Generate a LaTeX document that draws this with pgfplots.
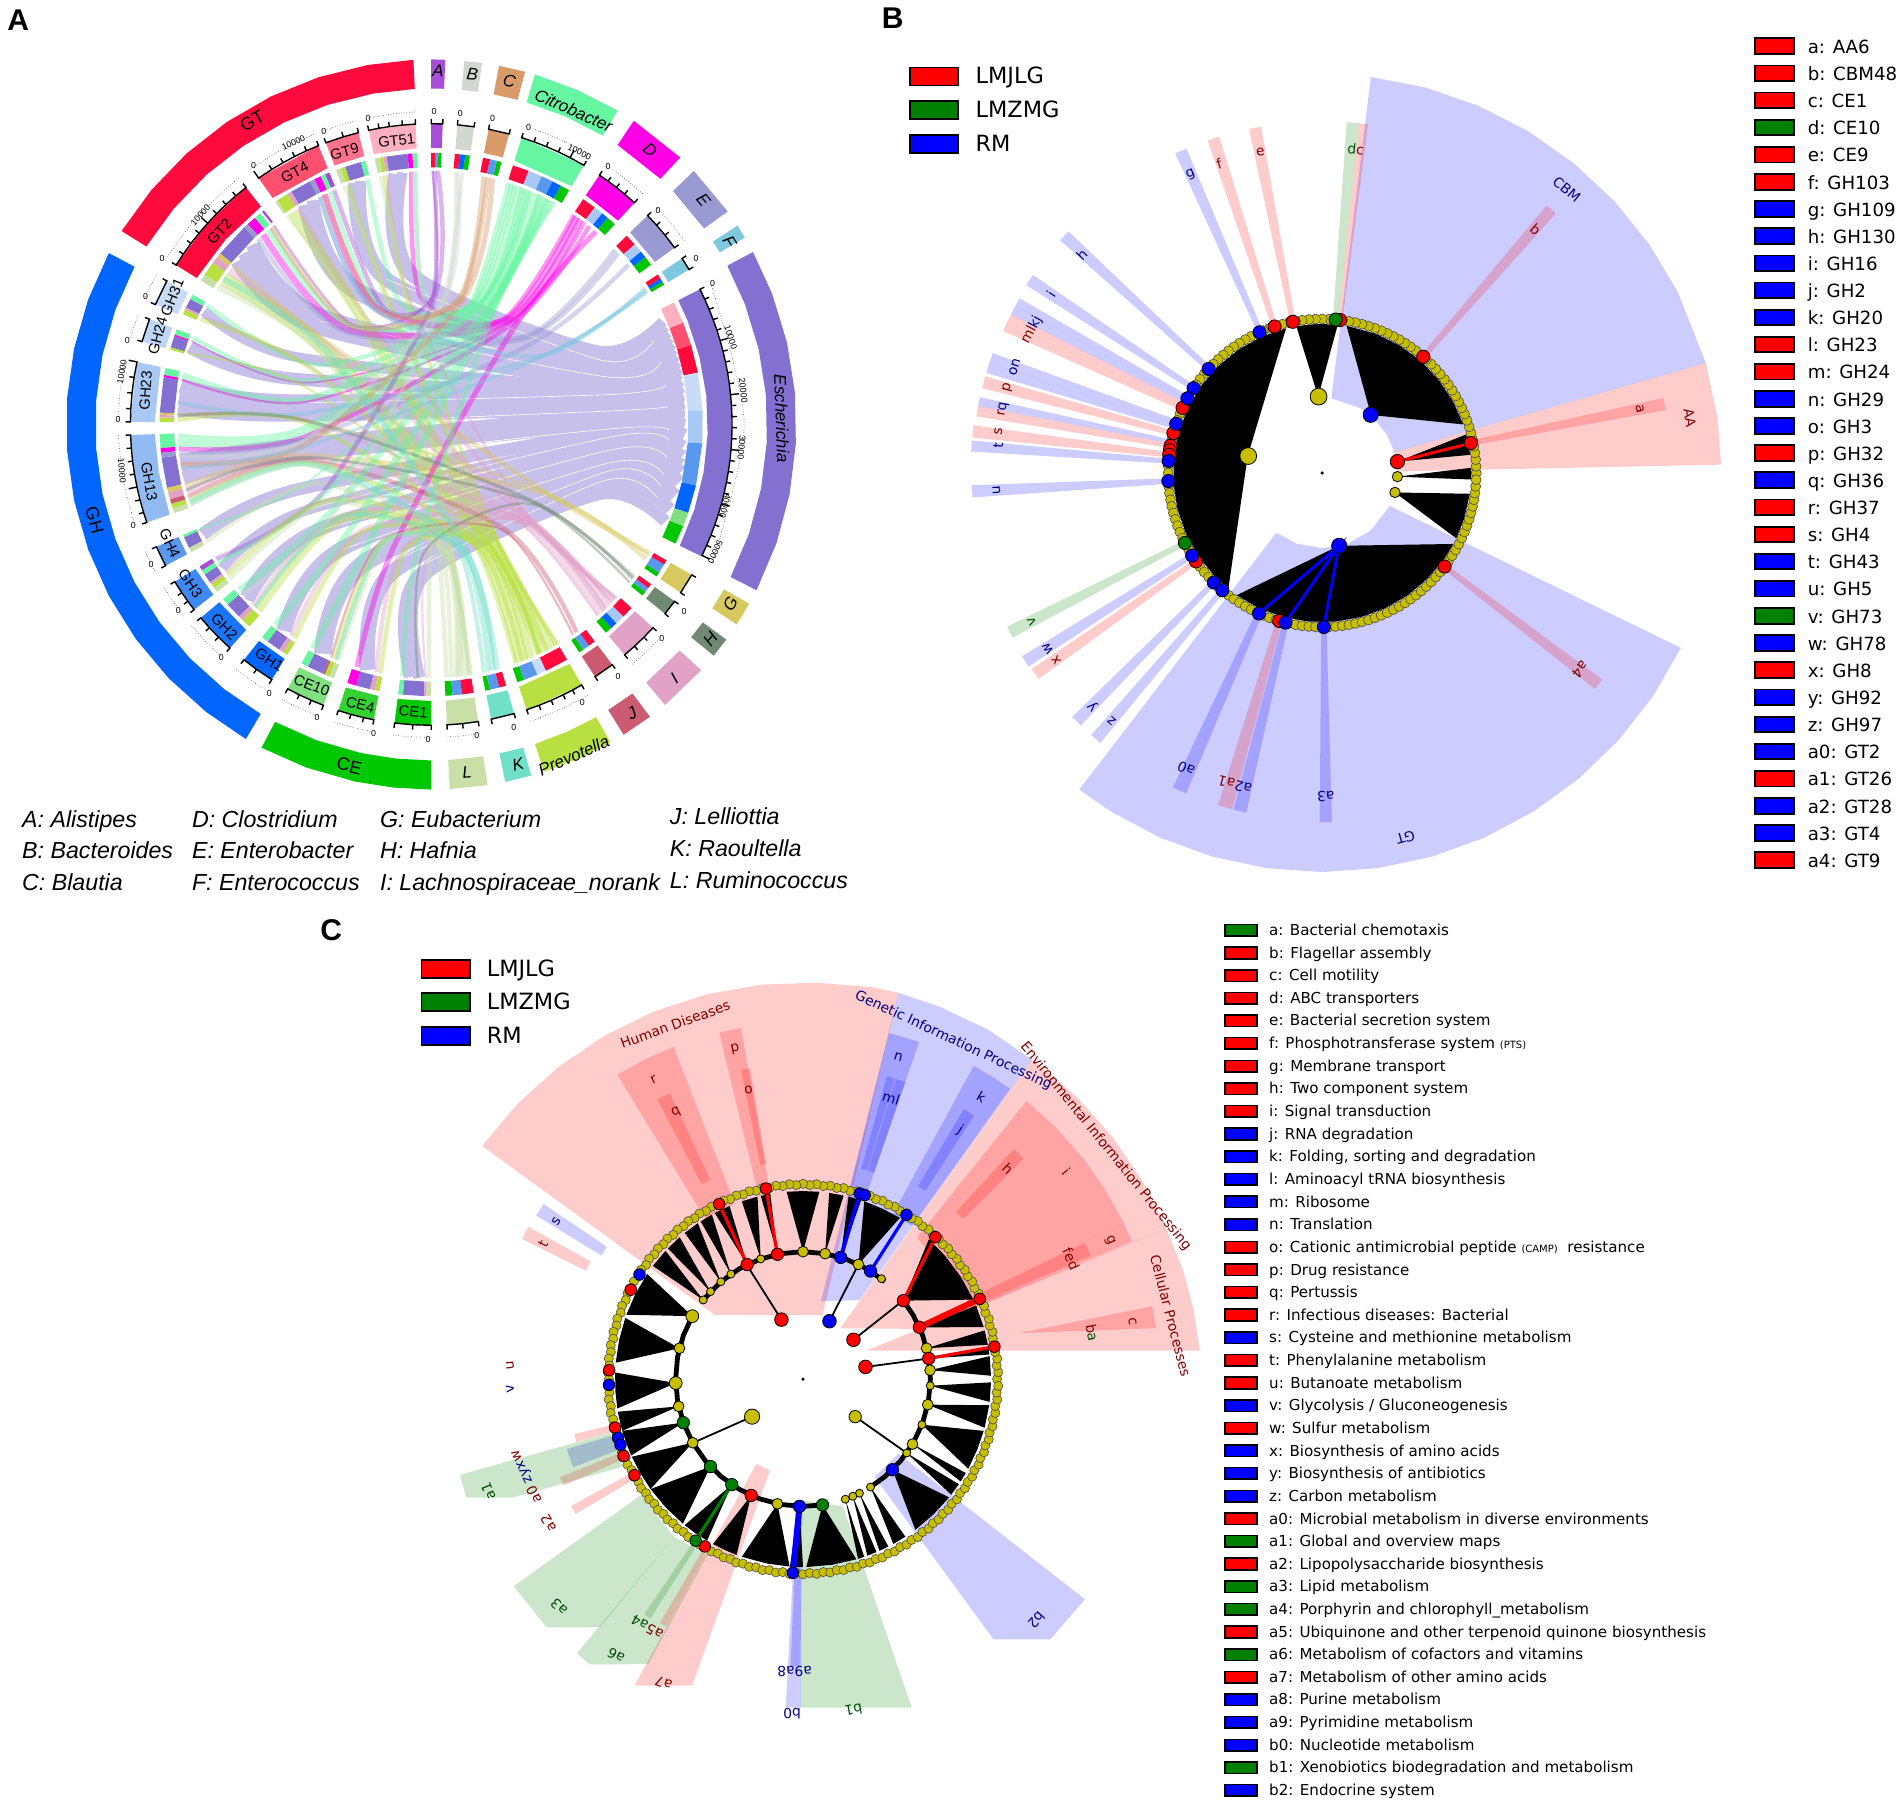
\documentclass[border=0pt]{standalone}
\usepackage{fontspec}
\usepackage{pgfplots}
\pgfplotsset{compat=1.18}
\setmainfont{Liberation Sans}
\newfontfamily\lefse[WordSpace=2.2]{DejaVu Sans}
\newfontfamily\lefsen{DejaVu Sans}
\definecolor{cRd}{HTML}{FF0A3C}\definecolor{cPk}{HTML}{FFB0C0}\definecolor{cRm}{HTML}{FF5070}
\definecolor{cB0}{HTML}{C8DCF8}\definecolor{cB1}{HTML}{A8C8F5}\definecolor{cB2}{HTML}{5A98F0}\definecolor{cB3}{HTML}{0066FF}
\definecolor{cG1}{HTML}{80E080}\definecolor{cGn}{HTML}{00C800}
\definecolor{cA}{HTML}{A64FD6}\definecolor{cBa}{HTML}{D0D8D0}\definecolor{cC}{HTML}{D89A68}\definecolor{cT}{HTML}{66F5A0}
\definecolor{cD}{HTML}{FF00E6}\definecolor{cE}{HTML}{9A9AD2}\definecolor{cF}{HTML}{7EC8E0}\definecolor{cL}{HTML}{8470D0}
\definecolor{cLav}{HTML}{C6C0EA}\definecolor{cG}{HTML}{D8C860}\definecolor{cH}{HTML}{6F8A70}\definecolor{cI}{HTML}{E2A2C8}
\definecolor{cJ}{HTML}{CC5A70}\definecolor{cP}{HTML}{B8E040}\definecolor{cK}{HTML}{70E0C8}\definecolor{cR}{HTML}{C8E0A8}
\definecolor{yl}{HTML}{C8BE00}\definecolor{lgreen}{HTML}{008000}
\definecolor{tR}{HTML}{800000}\definecolor{tB}{HTML}{000080}\definecolor{tG}{HTML}{005000}
\pgfplotsset{
  panel/.style={hide axis,scale only axis,width=951pt,height=903pt,clip=false,at={(0,0)},anchor=south west},
  pol/.style={data cs=polar},
}
\tikzset{
  lb/.style={anchor=west,inner sep=0pt,text height=.92em,text depth=.2em},
  lbc/.style={anchor=west,inner sep=0pt,text height=.72em,text depth=.2em},
  lbg/.style={anchor=west,inner sep=0pt,text height=1.04em,text depth=.2em},
  tx/.style={inner sep=0pt},
}
\pgfdeclareplotmark{swR}{\pgfpathrectangle{\pgfpoint{-9.7pt}{-3.9pt}}{\pgfpoint{19.4pt}{7.8pt}}\pgfusepathqfillstroke}
\pgfdeclareplotmark{swC}{\pgfpathrectangle{\pgfpoint{-7.9pt}{-2.9pt}}{\pgfpoint{15.8pt}{5.8pt}}\pgfusepathqfillstroke}
\pgfdeclareplotmark{swL}{\pgfpathrectangle{\pgfpoint{-12.1pt}{-4.5pt}}{\pgfpoint{24.2pt}{9pt}}\pgfusepathqfillstroke}
\newcommand\pg[3]{\addplot[pol,fill=#1,fill opacity=#2,draw=none] coordinates {#3} --cycle;}
\newcommand\strip[5]{\addplot[pol,fill=#1,fill opacity=.2,draw=none] coordinates {(#2,#4)(#3,#4)(#3,#5)(#2,#5)} --cycle;}
\newcommand\bk[1]{\addplot[pol,fill=black,draw=none] coordinates {#1} --cycle;}
\newcommand\ou[3]{\addplot[pol,fill=#1,draw=none] coordinates {(#2,277)(#3,277)(#3,301)(#2,301)} --cycle;}
\newcommand\tr[3]{\addplot[pol,fill=#1,draw=none] coordinates {(#2,228)(#3,228)(#3,248)(#2,248)} --cycle;}
\newcommand\gb[3]{\addplot[pol,fill=#1,draw=none] coordinates {(#2,212)(#3,212)(#3,224)(#2,224)} --cycle;}
\newcommand\lav[3]{\addplot[pol,smooth,draw=cLav,line width=#1pt] coordinates {(#2,209)(#2,125)(#3,150)(#3,209)};}
\newcommand\wl[2]{\addplot[pol,smooth,draw=white,line width=.3pt] coordinates {(#1,125)(#2,150)(#2,196)};}
\newcommand\rib[4]{\addplot[pol,smooth,draw=#1,line width=#2pt,opacity=.42] coordinates {(#3,209)(#3,105)(#4,105)(#4,209)};}
\newcommand\fs[6]{\rib{#1}{#6}{#3}{#5}\gb{#1}{#2}{#4}}
\newcommand\dt[3]{\addplot[pol,smooth,black!70,densely dotted,line width=.3pt] coordinates {(#1,258)(#2,258)(#3,258)};}
\newcommand\lbl[5]{\node[tx,rotate=#3,text=#4,font=#5] at (#1,#2)}
\newcommand\lR[4]{\node[tx,rotate=#3,text=tR,font=\fontsize{6.9}{8}\selectfont\lefse] at (#1,#2) {#4};}
\newcommand\lB[4]{\node[tx,rotate=#3,text=tB,font=\fontsize{6.9}{8}\selectfont\lefse] at (#1,#2) {#4};}
\newcommand\lG[4]{\node[tx,rotate=#3,text=tG,font=\fontsize{6.9}{8}\selectfont\lefse] at (#1,#2) {#4};}
\newcommand\nb[2]{\node[lb,font=\fontsize{9.1}{11}\selectfont\lefsen] at (1490,#1) {#2};}
\newcommand\nc[2]{\node[lbc,font=\fontsize{7.55}{9}\selectfont\lefse] at (1046,#1) {#2};}
\newcommand\sm[1]{{\fontsize{5}{6}\selectfont #1}}
\newcommand\cR[1]{\textcolor{tR}{#1}}
\newcommand\cB[1]{\textcolor{tB}{#1}}
\newcommand\cG[1]{\textcolor{tG}{#1}}
\begin{document}
\begin{tikzpicture}
\path[use as bounding box] (0,0) rectangle (951pt,903pt);
% ---------- panel A: chord diagram, polar (angle, radius) around its centre
\begin{axis}[panel,xmin=-355.5,xmax=1212.5,ymin=-1139,ymax=350]
\pg{cRd}{1}{(92.8,277)(100,277)(108,277)(116,277)(124,277)(132,277)(140,277)(148,277)(148,301)(140,301)(132,301)(124,301)(116,301)(108,301)(100,301)(92.8,301)}
\pg{cB3}{1}{(152,277)(160,277)(168,277)(176,277)(184,277)(192,277)(200,277)(208,277)(216,277)(224,277)(232,277)(239.5,277)(239.5,301)(232,301)(224,301)(216,301)(208,301)(200,301)(192,301)(184,301)(176,301)(168,301)(160,301)(152,301)}
\pg{cGn}{1}{(242.3,277)(250,277)(258,277)(264,277)(270,277)(270,301)(264,301)(258,301)(250,301)(242.3,301)}
\pg{cL}{1}{(-27,277)(-19,277)(-11,277)(-3,277)(5,277)(13,277)(21,277)(28.2,277)(28.2,301)(21,301)(13,301)(5,301)(-3,301)(-11,301)(-19,301)(-27,301)}
\pg{cT}{1}{(59.3,277)(66.4,277)(73.5,277)(73.5,301)(66.4,301)(59.3,301)}
\pg{cP}{1}{(288,277)(294,277)(299.4,277)(299.4,301)(294,301)(288,301)}
\ou{cA}{87.8}{90}\ou{cBa}{82}{84.8}\ou{cC}{75.1}{79.3}\ou{cD}{47}{56.3}\ou{cE}{35.7}{44}\ou{cF}{30.8}{33}
\ou{cR}{272.9}{278.9}\ou{cK}{281.7}{285.9}\ou{cJ}{301.8}{306.8}\ou{cI}{309.8}{317.7}\ou{cH}{320.7}{323.9}\ou{cG}{326.8}{330.6}
% name tracks
\tr{cRd}{128}{138}\tr{cRd}{138}{148}\tr{cRm}{112}{125}\tr{cRm!80}{104}{110.5}\tr{cPk}{93}{102}
\tr{cB0}{151.5}{156.5}\tr{cB0!70!cB1}{159.5}{164}\tr{cB1}{168}{179.5}\tr{cB1!70!cB2}{182}{190}\tr{cB1!70!cB2}{190}{199}
\tr{cB2}{204}{208}\tr{cB2!70!cB3}{211.5}{218}\tr{cB2!30!cB3}{220}{228}\tr{cB3}{231.5}{238}
\tr{cG1}{241.5}{249}\tr{cG1!40!cGn}{252}{259}\tr{cGn}{263}{270}
\tr{cA}{87.8}{90}\tr{cBa}{81.8}{85}\tr{cC}{75}{79}\tr{cT}{59.5}{72.5}\tr{cD}{47.5}{56}\tr{cE}{36}{44}\tr{cF}{31}{33.5}
\pg{cL}{1}{(-26,228)(-18,228)(-10,228)(-2,228)(6,228)(14,228)(22,228)(26.7,228)(26.7,248)(22,248)(14,248)(6,248)(-2,248)(-10,248)(-18,248)(-26,248)}
\tr{cG}{326}{330}\tr{cH}{321}{324}\tr{cI}{310}{317.5}\tr{cJ}{303}{307}\tr{cP}{288.5}{300}\tr{cK}{281.5}{286}\tr{cR}{273}{279}
% axis ticks of the tracks
\addplot[pol,black,line width=.7pt] coordinates {(128,248)(128,252)(128,248)(130.5,248)(130.5,252)(130.5,248)(133,248)(133,252)(133,248)(135.5,248)(135.5,252)(135.5,248)(138,248)(138,255)(138,248)(140.5,248)(140.5,252)(140.5,248)(143,248)(143,252)(143,248)(145.5,248)(145.5,252)(145.5,248)(148,248)(148,252)};
\addplot[pol,black,line width=.7pt] coordinates {(112,248)(112,252)(112,248)(114.5,248)(114.5,252)(114.5,248)(117,248)(117,252)(117,248)(119.5,248)(119.5,252)(119.5,248)(122,248)(122,252)(122,248)(125,248)(125,255)};
\addplot[pol,black,line width=.7pt] coordinates {(104,248)(104,252)(104,248)(107,248)(107,252)(107,248)(110.5,248)(110.5,252)};
\addplot[pol,black,line width=.7pt] coordinates {(93,248)(93,252)(93,248)(95.5,248)(95.5,252)(95.5,248)(98,248)(98,252)(98,248)(100,248)(100,252)(100,248)(102,248)(102,252)};
\addplot[pol,black,line width=.7pt] coordinates {(151.5,248)(151.5,252)(151.5,248)(156.5,248)(156.5,252)};
\addplot[pol,black,line width=.7pt] coordinates {(159.5,248)(159.5,252)(159.5,248)(164,248)(164,252)};
\addplot[pol,black,line width=.7pt] coordinates {(168,248)(168,255)(168,248)(171,248)(171,252)(171,248)(174,248)(174,252)(174,248)(177,248)(177,252)(177,248)(179.5,248)(179.5,252)};
\addplot[pol,black,line width=.7pt] coordinates {(182,248)(182,252)(182,248)(184.5,248)(184.5,252)(184.5,248)(187,248)(187,252)(187,248)(189.5,248)(189.5,252)(189.5,248)(192,248)(192,255)(192,248)(194.5,248)(194.5,252)(194.5,248)(197,248)(197,252)(197,248)(199,248)(199,252)};
\addplot[pol,black,line width=.7pt] coordinates {(204,248)(204,252)(204,248)(208,248)(208,252)};
\addplot[pol,black,line width=.7pt] coordinates {(211.5,248)(211.5,252)(211.5,248)(214,248)(214,252)(214,248)(216,248)(216,252)(216,248)(218,248)(218,252)};
\addplot[pol,black,line width=.7pt] coordinates {(220,248)(220,252)(220,248)(222.5,248)(222.5,252)(222.5,248)(225,248)(225,252)(225,248)(228,248)(228,252)};
\addplot[pol,black,line width=.7pt] coordinates {(231.5,248)(231.5,252)(231.5,248)(234.5,248)(234.5,252)(234.5,248)(238,248)(238,252)};
\addplot[pol,black,line width=.7pt] coordinates {(241.5,248)(241.5,252)(241.5,248)(244,248)(244,252)(244,248)(246.5,248)(246.5,252)(246.5,248)(249,248)(249,252)};
\addplot[pol,black,line width=.7pt] coordinates {(252,248)(252,252)(252,248)(254.5,248)(254.5,252)(254.5,248)(257,248)(257,252)(257,248)(259,248)(259,252)};
\addplot[pol,black,line width=.7pt] coordinates {(263,248)(263,252)(263,248)(266.5,248)(266.5,252)(266.5,248)(270,248)(270,252)};
\addplot[pol,black,line width=.7pt] coordinates {(87.8,248)(87.8,252)(87.8,248)(90,248)(90,252)};
\addplot[pol,black,line width=.7pt] coordinates {(81.8,248)(81.8,252)(81.8,248)(85,248)(85,252)};
\addplot[pol,black,line width=.7pt] coordinates {(75,248)(75,252)(75,248)(79,248)(79,252)};
\addplot[pol,black,line width=.7pt] coordinates {(72.5,248)(72.5,252)(72.5,248)(70,248)(70,252)(70,248)(67.5,248)(67.5,252)(67.5,248)(65,248)(65,252)(65,248)(62.5,248)(62.5,255)(62.5,248)(59.5,248)(59.5,252)};
\addplot[pol,black,line width=.7pt] coordinates {(56,248)(56,252)(56,248)(54,248)(54,252)(54,248)(52,248)(52,252)(52,248)(50,248)(50,252)(50,248)(47.5,248)(47.5,252)};
\addplot[pol,black,line width=.7pt] coordinates {(44,248)(44,252)(44,248)(41.5,248)(41.5,252)(41.5,248)(39,248)(39,252)(39,248)(36,248)(36,252)};
\addplot[pol,black,line width=.7pt] coordinates {(33.5,248)(33.5,252)(33.5,248)(31,248)(31,252)};
\addplot[pol,black,line width=.7pt] coordinates {(26.7,248)(26.7,252)(26.7,248)(24.6,248)(24.6,252)(24.6,248)(22.5,248)(22.5,252)(22.5,248)(20.4,248)(20.4,252)(20.4,248)(18.3,248)(18.3,252)(18.3,248)(16.2,248)(16.2,255)(16.2,248)(14.1,248)(14.1,252)(14.1,248)(12,248)(12,252)(12,248)(9.9,248)(9.9,252)(9.9,248)(7.8,248)(7.8,252)(7.8,248)(5.7,248)(5.7,255)(5.7,248)(3.6,248)(3.6,252)(3.6,248)(1.5,248)(1.5,252)(1.5,248)(-.6,248)(-.6,252)(-.6,248)(-2.7,248)(-2.7,252)(-2.7,248)(-4.8,248)(-4.8,255)(-4.8,248)(-6.9,248)(-6.9,252)(-6.9,248)(-9,248)(-9,252)(-9,248)(-11.1,248)(-11.1,252)(-11.1,248)(-13.2,248)(-13.2,252)(-13.2,248)(-15.3,248)(-15.3,255)(-15.3,248)(-17.4,248)(-17.4,252)(-17.4,248)(-19.5,248)(-19.5,252)(-19.5,248)(-21.6,248)(-21.6,252)(-21.6,248)(-23.7,248)(-23.7,252)(-23.7,248)(-25.8,248)(-25.8,255)};
\addplot[pol,black,line width=.7pt] coordinates {(326,248)(326,252)(326,248)(330,248)(330,252)};
\addplot[pol,black,line width=.7pt] coordinates {(321,248)(321,252)(321,248)(324,248)(324,252)};
\addplot[pol,black,line width=.7pt] coordinates {(310,248)(310,252)(310,248)(312.5,248)(312.5,252)(312.5,248)(315,248)(315,252)(315,248)(317.5,248)(317.5,252)};
\addplot[pol,black,line width=.7pt] coordinates {(303,248)(303,252)(303,248)(307,248)(307,252)};
\addplot[pol,black,line width=.7pt] coordinates {(288.5,248)(288.5,252)(288.5,248)(291,248)(291,252)(291,248)(293.5,248)(293.5,252)(293.5,248)(296,248)(296,252)(296,248)(298,248)(298,252)(298,248)(300,248)(300,252)};
\addplot[pol,black,line width=.7pt] coordinates {(281.5,248)(281.5,252)(281.5,248)(286,248)(286,252)};
\addplot[pol,black,line width=.7pt] coordinates {(273,248)(273,252)(273,248)(276,248)(276,252)(276,248)(279,248)(279,252)};
\dt{128}{138}{148}\dt{112}{118}{125}\dt{104}{107}{110.5}\dt{93}{97}{102}\dt{151.5}{154}{156.5}\dt{159.5}{162}{164}\dt{168}{174}{179.5}
\dt{182}{190}{199}\dt{204}{206}{208}\dt{211.5}{215}{218}\dt{220}{224}{228}\dt{231.5}{235}{238}\dt{241.5}{245}{249}\dt{252}{255}{259}\dt{263}{266}{270}
\dt{59.5}{66}{72.5}\dt{47.5}{52}{56}\dt{36}{40}{44}\dt{-26}{0}{26.7}\dt{310}{314}{317.5}\dt{288.5}{294}{300}\dt{273}{276}{279}
% Escherichia links first, solid
\lav{5.2}{96.5}{24}\lav{5.2}{98.5}{22.7}\lav{5.6}{106.2}{21.3}\lav{5.6}{107.8}{20}\lav{6.2}{117.8}{18.7}\lav{6.2}{120}{17.4}
\lav{6.8}{134.8}{16}\lav{6.8}{137.4}{14.5}\lav{6.8}{139.9}{13}\lav{5}{153.5}{11.5}\lav{6.2}{162.2}{10.2}
\lav{7.2}{171.2}{8.8}\lav{7.2}{173.7}{7}\lav{7.2}{176.2}{5.2}\lav{6.2}{188.2}{3.4}\lav{6.2}{190.2}{1.6}\lav{6.2}{192.3}{-.2}
\lav{6.2}{205.7}{-2.4}\lav{5}{214.5}{-4.8}\lav{5}{222.7}{-7}\lav{5}{224}{-9}\lav{7.4}{234.5}{-11}\lav{8.8}{244.7}{-13.5}
\lav{7.8}{255.5}{-16.5}\lav{6}{265.2}{-19.5}\lav{6}{267.3}{-22.5}
% thin gaps between the links
\wl{107}{20.7}\wl{137}{15.2}\wl{172}{9.5}\wl{180}{4.3}\wl{195}{-1.3}\wl{214}{-3.8}\wl{224}{-8}\wl{235}{-12.2}\wl{250}{-15}\wl{260}{-18}
% family bands with the links to each genus
\gb{cL}{95}{99.5}\gb{cL}{105}{108.5}\gb{cL}{116.5}{121}\gb{cL}{133.5}{141}\gb{cL}{152.5}{154.5}\gb{cL}{161}{163.5}\gb{cL}{170}{177.5}\gb{cL}{187}{193.5}
\gb{cL}{204.5}{207}\gb{cL}{213.5}{215.5}\gb{cL}{221.5}{225}\gb{cL}{233}{236}\gb{cL}{243}{246.5}\gb{cL}{254}{257}\gb{cL}{264}{268.5}
% GT51
\fs{cT}{93}{93.5}{94}{72.2}{2.2}\fs{cD}{94}{94.5}{95}{55.7}{2.2}\fs{cI}{99.5}{99.8}{100.2}{317}{1.5}\fs{cP}{100.2}{100.6}{101}{300}{1.8}\fs{cR}{101}{101.5}{102}{279}{2.2}
% GT9
\fs{cT}{104}{104.5}{105}{71.5}{2.2}\fs{cP}{108.5}{109}{109.5}{299.5}{2.2}\fs{cR}{109.5}{110}{110.5}{278.7}{2.2}
% GT4
\fs{cA}{112}{112.5}{113}{89.3}{2.2}\fs{cT}{113}{113.5}{114}{70.8}{2.2}\fs{cD}{114}{114.8}{115.5}{55}{3}\fs{cE}{115.5}{116}{116.5}{43.5}{2.2}
\fs{cI}{121}{121.5}{122}{316.5}{2.2}\fs{cP}{122}{123.2}{124.5}{298}{5.5}\fs{cR}{124.5}{124.8}{125}{278.4}{1.2}
% GT2
\fs{cA}{128}{128.3}{128.5}{89.7}{1.2}\fs{cT}{129}{129.8}{130.5}{69.8}{3.3}\fs{cD}{130.5}{131.5}{132.5}{54}{3.2}\fs{cE}{132.5}{133}{133.5}{42.5}{2.2}
\fs{cG}{141}{141.5}{142}{329.5}{2.2}\fs{cI}{142}{142.8}{143.5}{316}{3.3}\fs{cP}{143.5}{145}{146.5}{296}{6.6}\fs{cR}{146.5}{147.2}{148}{277.5}{3.3}
% GH31, GH24
\fs{cT}{151.5}{152}{152.5}{69}{2.2}\fs{cI}{154.5}{154.8}{155}{315.5}{1.1}\fs{cP}{155}{155.5}{156}{295.5}{2.2}
\fs{cT}{159.5}{160.1}{160.7}{68.3}{2.6}\fs{cD}{160.7}{160.8}{161}{53.2}{.7}\fs{cP}{163.5}{163.8}{164}{295.2}{1.1}
% GH23
\fs{cT}{168}{168.8}{169.5}{67.5}{3.3}\fs{cD}{169.5}{169.8}{170}{52.7}{1.1}\fs{cG}{177.5}{177.8}{178}{329}{1.1}\fs{cI}{178}{178.3}{178.5}{315}{1.1}\fs{cP}{178.5}{179}{179.5}{295}{2.2}
% GH13
\fs{cT}{182}{183.5}{185}{66}{6.6}\fs{cD}{185}{185.5}{186}{51.5}{2.2}\fs{cE}{186}{186.5}{187}{39}{2.2}\fs{cG}{193.5}{194}{194.5}{328}{2.2}\fs{cI}{194.5}{195.2}{196}{314}{3.3}
\fs{cJ}{196}{196.5}{197}{305}{2.2}\fs{cP}{197}{197.5}{198}{293.5}{2.2}\fs{cR}{198}{198.5}{199}{276.5}{2.2}
% GH4, GH3, GH2, GH1
\fs{cT}{204}{204.2}{204.5}{65}{1.1}\fs{cR}{207}{207.5}{208}{276}{2.2}
\fs{cA}{211.5}{212}{212.5}{88.5}{2.2}\fs{cT}{212.5}{213}{213.5}{64.3}{2.2}\fs{cI}{215.5}{215.8}{216}{313.5}{1.1}\fs{cP}{216}{216.5}{217}{292.5}{2.2}\fs{cR}{217}{217.5}{218}{275.5}{2.2}
\fs{cT}{220}{220.8}{221.5}{63.5}{3.3}\fs{cI}{225}{225.5}{226}{313}{2.2}\fs{cP}{226}{227}{228}{291.5}{4.4}
\fs{cT}{231.5}{232.2}{233}{62.7}{3.3}\fs{cI}{236}{236.5}{237}{312.5}{2.2}\fs{cP}{237}{237.5}{238}{291}{2.2}
% CE10, CE4, CE1
\fs{cT}{241.5}{242.2}{243}{62}{3.3}\fs{cJ}{246.5}{246.8}{247}{304}{1.1}\fs{cP}{247}{247.5}{248}{290}{2.2}\fs{cR}{248}{248.5}{249}{274.5}{2.2}
\fs{cD}{252}{253}{254}{49.5}{2.6}\fs{cI}{257}{257.5}{258}{311.5}{2.2}\fs{cP}{258}{258.5}{259}{289.5}{2.2}
\fs{cT}{263}{263.5}{264}{61}{2.2}\fs{cI}{268.5}{268.8}{269}{311}{1.1}\fs{cR}{269}{269.5}{270}{273.5}{2.2}
% genera with small shares
\rib{cBa}{2}{94}{83}\rib{cBa}{2}{187}{84}\rib{cBa}{2}{222}{84.5}\rib{cC}{2.5}{129}{78}\rib{cC}{2.5}{115}{77}\rib{cC}{2.5}{189}{76}
\rib{cF}{2}{116}{32.5}\rib{cF}{2}{175}{32}\rib{cF}{1.5}{190}{31.5}\rib{cH}{1.6}{178}{323}\rib{cH}{1.4}{195}{322.5}\rib{cH}{1.2}{267}{321.5}
\rib{cK}{3}{145}{285}\rib{cK}{3}{198}{284}\rib{cK}{2}{226}{283}\rib{cK}{2}{248}{282}
% genus bands, red to green
\gb{cPk}{22}{26.7}\gb{cRm}{17}{22}\gb{cRd}{11}{17}\gb{cB0}{3}{11}\gb{cB1}{-4}{3}\gb{cB2}{-13}{-4}\gb{cB3}{-19}{-13}\gb{cG1}{-22}{-19}\gb{cGn}{-26}{-22}
\gb{cRd}{69}{72.5}\gb{cB1}{66}{69}\gb{cB2}{63.5}{66}\gb{cB3}{61.5}{63.5}\gb{cGn}{59.5}{61.5}
\gb{cRd}{53}{56}\gb{cB1}{51}{53}\gb{cB3}{49.5}{51}\gb{cGn}{47.5}{49.5}
\gb{cRd}{41.5}{44}\gb{cB1}{39.5}{41.5}\gb{cB3}{38}{39.5}\gb{cGn}{36}{38}
\gb{cRd}{32.5}{33.5}\gb{cB3}{31.7}{32.5}\gb{cGn}{31}{31.7}
\gb{cGn}{75}{76}\gb{cB2}{76}{77.5}\gb{cRd}{77.5}{79}\gb{cGn}{81.8}{82.8}\gb{cB3}{82.8}{84}\gb{cRd}{84}{85}\gb{cGn}{87.8}{88.5}\gb{cB2}{88.5}{89.2}\gb{cRd}{89.2}{90}
\gb{cGn}{273}{274.5}\gb{cB2}{274.5}{276.5}\gb{cRd}{276.5}{279}\gb{cGn}{281.5}{282.5}\gb{cB2}{282.5}{284.5}\gb{cRd}{284.5}{286}
\gb{cGn}{288.5}{290}\gb{cB2}{290}{293}\gb{cB0}{293}{295}\gb{cRd}{295}{300}\gb{cGn}{303}{304}\gb{cB2}{304}{305.5}\gb{cRd}{305.5}{307}
\gb{cGn}{310}{311.5}\gb{cB3}{311.5}{313}\gb{cB1}{313}{315}\gb{cRd}{315}{317.5}\gb{cGn}{321}{322}\gb{cB2}{322}{323}\gb{cRd}{323}{324}
\gb{cGn}{326}{327}\gb{cB2}{327}{329}\gb{cRd}{329}{330}
\end{axis}
% ---------- panel B: cladogram
\begin{axis}[panel,xmin=-1090,xmax=478,ymin=-1099,ymax=390]
\pg{blue}{.2}{(83,329)(75,329)(67,329)(59,329)(51,329)(43,329)(35,329)(27,329)(16,329)(16,62)(30,62)(45,62)(60,62)(83,62)}
\pg{red}{.2}{(16,329)(8,329)(1.2,329)(1.2,62)(9,62)(16,62)}
\pg{blue}{.2}{(334,329)(326,329)(318,329)(310,329)(302,329)(294,329)(286,329)(278,329)(270,329)(262,329)(254,329)(246,329)(238,329)(232.5,329)(232.5,62)(250,62)(270,62)(290,62)(310,62)(334,62)}
\strip{red}{10.4}{12.4}{127}{288}\strip{red}{48}{50}{127}{288}\strip{red}{321.6}{323.6}{127}{287}
\strip{red}{82.5}{84}{127}{290}\strip{lgreen}{84}{86}{127}{290}\strip{red}{100}{102}{127}{290}\strip{red}{107}{109}{127}{290}\strip{blue}{112.7}{114.7}{127}{290}
\strip{blue}{136.4}{138.4}{127}{289}\strip{blue}{145.6}{147.6}{127}{289}\strip{blue}{150}{151.5}{127}{288}\strip{blue}{151.5}{153}{127}{288}\strip{red}{153}{154.5}{127}{288}\strip{red}{154.5}{156}{127}{288}
\strip{blue}{160}{161.7}{127}{289}\strip{blue}{161.7}{163.4}{127}{289}\strip{red}{164}{166}{127}{289}\strip{blue}{167.5}{169}{127}{289}\strip{red}{169}{170.7}{127}{289}
\strip{red}{172.2}{174.2}{127}{290}\strip{blue}{174.7}{176.5}{127}{290}\strip{blue}{182}{184}{127}{289}\strip{lgreen}{206}{208}{127}{289}\strip{blue}{211.4}{213.4}{127}{290}\strip{red}{214}{216}{127}{289}
\strip{blue}{224.3}{226.3}{127}{288}\strip{blue}{228.6}{230.6}{127}{288}\strip{blue}{244.6}{247}{127}{287}\strip{red}{252.6}{255}{127}{287}\strip{blue}{255.2}{257.4}{127}{287}\strip{blue}{269.6}{271.6}{127}{288}
\bk{(93,63)(84,123)(92,123)(100,123)}
\bk{(167,63)(104,123)(114,123)(124,123)(134,123)(144,123)(154,123)(164,123)(174,123)(184,123)(194,123)(204,123)(214,123)(224,123)(231,123)}
\bk{(50,62.5)(19,123)(29,123)(39,123)(49,123)(59,123)(69,123)(80.6,123)}
\bk{(8.6,62.7)(7,123)(15,123)}
\bk{(-2.8,62)(-2.5,123)(2,123)}
\bk{(345,62)(334,123)(342,123)(352,123)}
\bk{(283,61.6)(235,123)(245,123)(255,123)(265,123)(275,123)(285,123)(295,123)(305,123)(315,123)(325,123)(331.6,123)}
\addplot[pol,blue,line width=1.5pt] coordinates {(245.8,127)(283,61.6)(256.2,127)(283,61.6)(270.6,127)};
\addplot[pol,red,line width=1.5pt] coordinates {(8.6,62.7)(11.4,127)};
\addplot[pol,only marks,mark=*,mark size=2.5pt,mark options={fill=yl,draw=black!70,line width=.3pt}] coordinates {(0,127)(2.5,127)(5,127)(7.5,127)(10,127)(12.5,127)(15,127)(17.5,127)(20,127)(22.5,127)(25,127)(27.5,127)(30,127)(32.5,127)(35,127)(37.5,127)(40,127)(42.5,127)(45,127)(47.5,127)(50,127)(52.5,127)(55,127)(57.5,127)(60,127)(62.5,127)(65,127)(67.5,127)(70,127)(72.5,127)(75,127)(77.5,127)(80,127)(82.5,127)(85,127)(87.5,127)(90,127)(92.5,127)(95,127)(97.5,127)(100,127)(102.5,127)(105,127)(107.5,127)(110,127)(112.5,127)(115,127)(117.5,127)(120,127)(122.5,127)(125,127)(127.5,127)(130,127)(132.5,127)(135,127)(137.5,127)(140,127)(142.5,127)(145,127)(147.5,127)(150,127)(152.5,127)(155,127)(157.5,127)(160,127)(162.5,127)(165,127)(167.5,127)(170,127)(172.5,127)(175,127)(177.5,127)(180,127)(182.5,127)(185,127)(187.5,127)(190,127)(192.5,127)(195,127)(197.5,127)(200,127)(202.5,127)(205,127)(207.5,127)(210,127)(212.5,127)(215,127)(217.5,127)(220,127)(222.5,127)(225,127)(227.5,127)(230,127)(232.5,127)(235,127)(237.5,127)(240,127)(242.5,127)(245,127)(247.5,127)(250,127)(252.5,127)(255,127)(257.5,127)(260,127)(262.5,127)(265,127)(267.5,127)(270,127)(272.5,127)(275,127)(277.5,127)(280,127)(282.5,127)(285,127)(287.5,127)(290,127)(292.5,127)(295,127)(297.5,127)(300,127)(302.5,127)(305,127)(307.5,127)(310,127)(312.5,127)(315,127)(317.5,127)(320,127)(322.5,127)(325,127)(327.5,127)(330,127)(332.5,127)(335,127)(337.5,127)(340,127)(342.5,127)(345,127)(347.5,127)(350,127)(352.5,127)(355,127)(357.5,127)};
\addplot[pol,only marks,mark=*,mark size=3.3pt,mark options={fill=red,draw=black,line width=.4pt}] coordinates {(11.4,125)(49,127)(322.6,127)(83.3,127)(101,127)(108,127)(155,127)(165,127)(169.8,127)(171.5,127)(173.2,127)(215,127)(253.8,127)};
\addplot[pol,only marks,mark=*,mark size=3.3pt,mark options={fill=blue,draw=black,line width=.4pt}] coordinates {(114,127)(137.5,127)(146.6,127)(151,127)(161.4,127)(175.5,127)(183,127)(212.4,127)(225.3,127)(229.6,127)(245.8,127)(256.2,127)(270.6,127)};
\addplot[pol,only marks,mark=*,mark size=3.3pt,mark options={fill=lgreen,draw=black,line width=.4pt}] coordinates {(85,127)(207,127)};
% inner clade nodes
\addplot[only marks,mark=*,mark size=4.2pt,mark options={fill=yl,draw=black,line width=.4pt}] coordinates {(-3,63)(-61,14)};
\addplot[only marks,mark=*,mark size=2.6pt,mark options={fill=yl,draw=black,line width=.4pt}] coordinates {(62,-3)(60,-16)};
\addplot[only marks,mark=*,mark size=3.8pt,mark options={fill=blue,draw=black,line width=.4pt}] coordinates {(40,48)(14,-60)};
\addplot[only marks,mark=*,mark size=3.6pt,mark options={fill=red,draw=black,line width=.4pt}] coordinates {(62,9.4)};
\addplot[only marks,mark=*,mark size=.6pt,mark options={fill=lgreen,draw=none}] coordinates {(0,0)};
\end{axis}
% ---------- panel C: cladogram
\begin{axis}[panel,xmin=-662,xmax=906,ymin=-352,ymax=1137]
\pg{red}{.2}{(144,327)(136,327)(128,327)(120,327)(112,327)(104,327)(96,327)(88,327)(80,328)(76.1,328)(73,55)(144,90)}
\pg{blue}{.2}{(76.1,328)(70,327)(62,326)(54.4,324)(54.4,80)(77,66)}
\pg{red}{.2}{(54.4,324)(46,324)(38,324)(30,324)(22.5,324)(22.5,108)(53.7,52)}
\pg{red}{.2}{(22.5,324)(16,326)(10,327)(4.1,328)(24.2,57)}
\pg{red}{.2}{(121.4,294)(116.3,294)(111.3,294)(111.3,155)(121.4,155)}
\strip{red}{115}{117.5}{181}{260}\strip{red}{100}{103.6}{155}{294}\strip{red}{99.7}{101.3}{180}{260}
\strip{blue}{71}{76}{155}{294}\strip{blue}{71}{72.8}{180}{259}\strip{blue}{73}{74.5}{180}{259}
\pg{blue}{.2}{(61.4,294)(58,294)(54.5,294)(54.5,155)(61.4,155)}
\strip{blue}{57}{59.2}{185}{259}
\pg{red}{.2}{(51.2,294)(45,294)(38,294)(32,294)(26,294)(26,150)(51.2,150)}
\strip{red}{45}{47.5}{187}{257}\strip{red}{22.7}{26}{150}{294}\strip{red}{23.2}{24}{150}{258}\strip{red}{24}{25}{150}{258}\strip{red}{25}{25.8}{150}{258}
\pg{red}{.2}{(11.8,294)(8.2,294)(12,182)}
\strip{blue}{146}{148.5}{195}{258}\strip{red}{151}{153.5}{200}{259}
\strip{red}{193.5}{195.5}{165}{194}\strip{blue}{196.5}{198}{165}{203}\strip{blue}{198}{199.5}{165}{203}\strip{blue}{199.5}{201}{165}{203}\strip{red}{202}{204}{165}{216}\strip{red}{208.7}{210.7}{165}{218}
\pg{lgreen}{.2}{(195.6,165)(195.6,293.6)(199.4,294.3)(202.2,258.5)(206,165)}
\pg{lgreen}{.2}{(215.6,164)(215.6,293.3)(224.1,294.3)(230.7,264.4)(230.7,168)}
\pg{lgreen}{.2}{(230.7,168)(230.5,293)(233.2,293.8)(241.5,267.5)(241.5,165)}
\strip{lgreen}{236}{237.5}{165}{234}\strip{red}{239.6}{241.1}{165}{233}
\pg{red}{.2}{(241.2,80)(241.2,288.3)(250.1,268.8)(250.1,80)}
\strip{blue}{267}{269.6}{100}{271}\strip{blue}{267.5}{268.5}{100}{237}\strip{blue}{268.5}{269.5}{100}{237}
\pg{lgreen}{.2}{(269.6,100)(269.6,271)(288.3,285.4)(287.4,110)}
\pg{blue}{.2}{(306.2,100)(306.2,266)(313.5,296)(322,295)(322,100)}
% black fans from the inner nodes to the rim
\bk{(90,105)(85,155)(90,155)(95,155)}\bk{(80,105)(77.5,155)(82,155)}\bk{(64.2,105)(59,155)(65,155)(71,155)}\bk{(72.8,105)(72,155)(76,155)}
\bk{(38,105)(25,155)(33,155)(41,155)(48,155)}\bk{(24,105)(16,155)(23,155)}\bk{(14,105)(10.5,155)(15,155)}\bk{(4,105)(1,155)(7,155)}\bk{(9.3,105)(7.5,155)(9.5,155)}
\bk{(-3,105)(-7,155)(-1,155)}\bk{(-11.6,105)(-15,155)(-8,155)}\bk{(-21,105)(-28.5,155)(-22,155)(-16,155)}\bk{(-30.7,105)(-33,155)(-30,155)}\bk{(-35.5,105)(-38,155)(-34,155)}
\bk{(-45.4,105)(-53.3,155)(-46,155)(-39,155)}\bk{(-58,105)(-61.3,155)(-57,155)}\bk{(-63.7,105)(-66,155)(-63,155)}\bk{(-67,105)(-70,155)(-67,155)}\bk{(-70.6,105)(-73,155)(-71,155)}
\bk{(-81.2,105)(-89,155)(-81,155)(-73.5,155)}\bk{(268.4,105)(266,155)(270,155)}\bk{(258.4,105)(251,155)(259,155)(265.9,155)}\bk{(246,105)(241.4,155)(246,155)(249.3,155)}
\bk{(236,105)(231,155)(235,155)(239.3,155)}\bk{(223.4,105)(215.8,155)(223,155)(230.3,155)}\bk{(210,105)(204.4,155)(210,155)(215.8,155)}\bk{(200,105)(196,155)(200,155)(204,155)}
\bk{(192.4,105)(190,155)(193,155)(196,155)}\bk{(181.8,105)(178,155)(184,155)(189,155)}\bk{(166,105)(161,155)(168,155)(175,155)}\bk{(150.4,105)(146,155)(153,155)(160,155)}
\bk{(141.6,105)(137,155)(143,155)}\bk{(136.6,105)(131,155)(136,155)}\bk{(130.2,105)(124,155)(129,155)}\bk{(124.5,105)(119,155)(123,155)}\bk{(116,105)(113,155)(118,155)}\bk{(109.4,105)(104,155)(109,155)}\bk{(101.6,105)(100,155)(103,155)}
% thick inner arcs
\addplot[pol,black,line width=2.4pt] coordinates {(141.6,105)(130,105)(120,105)(110,105)(100,105)(90,105)(80,105)(70,105)(60,105)(50,105)};
\addplot[pol,black,line width=2.4pt] coordinates {(38,105)(30,105)(20,105)(10,105)(0,105)(-10,105)(-20,105)(-30,105)(-40,105)(-50,105)(-58,105)};
\addplot[pol,black,line width=2.4pt] coordinates {(278.8,105)(270,105)(260,105)(250,105)(240,105)(230,105)(220,105)(210,105)(200,105)(190,105)(180,105)(170,105)(160,105)(150.4,105)};
% coloured clade branches
\addplot[pol,red,line width=1.6pt] coordinates {(101.6,105)(101,160)};\addplot[pol,red,line width=1.6pt] coordinates {(116,105)(115.6,160)};\addplot[pol,red,line width=1.6pt] coordinates {(38,105)(47,160)};
\addplot[pol,red,line width=3pt] coordinates {(24,105)(24.4,160)};\addplot[pol,red,line width=1.6pt] coordinates {(9.3,105)(9.6,160)};
\addplot[pol,blue,line width=2pt] coordinates {(72.8,105)(73,160)};\addplot[pol,blue,line width=1.6pt] coordinates {(58,105)(57.8,160)};
\addplot[pol,lgreen,line width=1.6pt] coordinates {(236,105)(236.4,160)};\addplot[pol,blue,line width=3pt] coordinates {(268.4,105)(267,160)};
% branches to the central nodes
\addplot[black,line width=.9pt] coordinates {(-17.8,49)(-46,93.5)};\addplot[black,line width=.9pt] coordinates {(21.8,47.7)(45.6,94.4)};\addplot[black,line width=.9pt] coordinates {(41.6,32.4)(82.7,64.9)};
\addplot[black,line width=.9pt] coordinates {(51.5,10)(104,17)};\addplot[black,line width=.9pt] coordinates {(-42,-31)(-90.5,-52.5)};\addplot[black,line width=.9pt] coordinates {(43,-31)(85,-60.6)};
% rim
\addplot[pol,only marks,mark=*,mark size=2.3pt,mark options={fill=yl,draw=black!70,line width=.3pt}] coordinates {(0,160)(2,161)(4,160)(6,161)(8,160)(10,161)(12,160)(14,161)(16,160)(18,161)(20,160)(22,161)(24,160)(26,161)(28,160)(30,161)(32,160)(34,161)(36,160)(38,161)(40,160)(42,161)(44,160)(46,161)(48,160)(50,161)(52,160)(54,161)(56,160)(58,161)(60,160)(62,161)(64,160)(66,161)(68,160)(70,161)(72,160)(74,161)(76,160)(78,161)(80,160)(82,161)(84,160)(86,161)(88,160)(90,161)(92,160)(94,161)(96,160)(98,161)(100,160)(102,161)(104,160)(106,161)(108,160)(110,161)(112,160)(114,161)(116,160)(118,161)(120,160)(122,161)(124,160)(126,161)(128,160)(130,161)(132,160)(134,161)(136,160)(138,161)(140,160)(142,161)(144,160)(146,161)(148,160)(150,161)(152,160)(154,161)(156,160)(158,161)(160,160)(162,161)(164,160)(166,161)(168,160)(170,161)(172,160)(174,161)(176,160)(178,161)(180,160)(182,161)(184,160)(186,161)(188,160)(190,161)(192,160)(194,161)(196,160)(198,161)(200,160)(202,161)(204,160)(206,161)(208,160)(210,161)(212,160)(214,161)(216,160)(218,161)(220,160)(222,161)(224,160)(226,161)(228,160)(230,161)(232,160)(234,161)(236,160)(238,161)(240,160)(242,161)(244,160)(246,161)(248,160)(250,161)(252,160)(254,161)(256,160)(258,161)(260,160)(262,161)(264,160)(266,161)(268,160)(270,161)(272,160)(274,161)(276,160)(278,161)(280,160)(282,161)(284,160)(286,161)(288,160)(290,161)(292,160)(294,161)(296,160)(298,161)(300,160)(302,161)(304,160)(306,161)(308,160)(310,161)(312,160)(314,161)(316,160)(318,161)(320,160)(322,161)(324,160)(326,161)(328,160)(330,161)(332,160)(334,161)(336,160)(338,161)(340,160)(342,161)(344,160)(346,161)(348,160)(350,161)(352,160)(354,161)(356,160)(358,161)};
\addplot[pol,only marks,mark=*,mark size=2.9pt,mark options={fill=red,draw=black,line width=.4pt}] coordinates {(47,160)(24.4,160)(9.6,160)(101,160)(115.6,160)(152.6,160)(177.4,160)(194.5,160)(203.2,161)(209.7,160)(239.6,160)};
\addplot[pol,only marks,mark=*,mark size=2.9pt,mark options={fill=blue,draw=black,line width=.4pt}] coordinates {(73,160)(71.5,160)(57.8,160)(147.4,160)(181.7,160)(197.6,160)(199.8,160)(267,160)};
\addplot[pol,only marks,mark=*,mark size=2.9pt,mark options={fill=lgreen,draw=black,line width=.4pt}] coordinates {(236.4,160)};
% inner nodes on the arc
\addplot[pol,only marks,mark=*,mark size=2.7pt,mark options={fill=yl,draw=black,line width=.4pt}] coordinates {(90,105)(80,105)(64.2,105)(4,105)(-11.6,105)(-30.7,105)(258.4,105)(210,105)(192.4,105)(181.8,105)(166,105)(14,105)};
\addplot[pol,only marks,mark=*,mark size=3.2pt,mark options={fill=yl,draw=black,line width=.4pt}] coordinates {(150.4,105)(181.8,105)};
\addplot[pol,only marks,mark=*,mark size=2pt,mark options={fill=yl,draw=black,line width=.4pt}] coordinates {(52,105)(-3,105)(-21,105)(-35.5,105)(-58,105)(-63.7,105)(-67,105)(-70.6,105)(141.6,105)(136.6,105)(130.2,105)(124.5,105)(109.4,105)};
\addplot[pol,only marks,mark=*,mark size=3.1pt,mark options={fill=red,draw=black,line width=.4pt}] coordinates {(101.6,105)(116,105)(38,105)(24,105)(9.3,105)(246,105)};
\addplot[pol,only marks,mark=*,mark size=3.1pt,mark options={fill=blue,draw=black,line width=.4pt}] coordinates {(72.8,105)(58,105)(-45.4,105)(268.4,105)};
\addplot[pol,only marks,mark=*,mark size=3.1pt,mark options={fill=lgreen,draw=black,line width=.4pt}] coordinates {(-81.2,105)(236,105)(223.4,105)(200,105)};
\addplot[only marks,mark=*,mark size=3.4pt,mark options={fill=red,draw=black,line width=.4pt}] coordinates {(-17.8,49)(41.6,32.4)(51.5,10)};
\addplot[only marks,mark=*,mark size=3.4pt,mark options={fill=blue,draw=black,line width=.4pt}] coordinates {(21.8,47.7)};
\addplot[only marks,mark=*,mark size=3.8pt,mark options={fill=yl,draw=black,line width=.4pt}] coordinates {(-42,-31)};
\addplot[only marks,mark=*,mark size=3.1pt,mark options={fill=yl,draw=black,line width=.4pt}] coordinates {(43,-31)};
\addplot[only marks,mark=*,mark size=.6pt,mark options={fill=lgreen,draw=none}] coordinates {(0,0)};
\end{axis}
% ---------- text and legends, in picture coordinates
\begin{axis}[panel,xmin=0,xmax=1568,ymin=0,ymax=1489,y dir=reverse]
\addplot[only marks,mark=swL,mark options={fill=red,draw=black,line width=.9pt}] coordinates {(770,63)(367.5,799)};
\addplot[only marks,mark=swL,mark options={fill=lgreen,draw=black,line width=.9pt}] coordinates {(770,91)(367.5,826)};
\addplot[only marks,mark=swL,mark options={fill=blue,draw=black,line width=.9pt}] coordinates {(770,119)(367.5,854)};
\addplot[only marks,mark=swR,mark options={fill=red,draw=black,line width=.9pt}] coordinates {(1463,38)(1463,60.4)(1463,82.7)(1463,127.5)(1463,149.9)(1463,284.1)(1463,306.4)(1463,373.6)(1463,418.3)(1463,440.7)(1463,552.5)(1463,642)(1463,709.1)};
\addplot[only marks,mark=swR,mark options={fill=lgreen,draw=black,line width=.9pt}] coordinates {(1463,105.1)(1463,507.8)};
\addplot[only marks,mark=swR,mark options={fill=blue,draw=black,line width=.9pt}] coordinates {(1463,172.2)(1463,194.6)(1463,217)(1463,239.3)(1463,261.7)(1463,328.8)(1463,351.2)(1463,395.9)(1463,463)(1463,485.4)(1463,530.1)(1463,574.9)(1463,597.3)(1463,619.6)(1463,664.4)(1463,686.7)};
\addplot[only marks,mark=swC,mark options={fill=red,draw=black,line width=.8pt}] coordinates {(1023,785.7)(1023,804.3)(1023,823)(1023,841.6)(1023,860.3)(1023,879)(1023,897.6)(1023,916.3)(1023,1028.2)(1023,1046.9)(1023,1065.6)(1023,1084.2)(1023,1121.5)(1023,1140.2)(1023,1177.5)(1023,1252.2)(1023,1289.5)(1023,1345.5)(1023,1382.8)};
\addplot[only marks,mark=swC,mark options={fill=lgreen,draw=black,line width=.8pt}] coordinates {(1023,767)(1023,1270.8)(1023,1308.1)(1023,1326.8)(1023,1364.1)(1023,1457.4)};
\addplot[only marks,mark=swC,mark options={fill=blue,draw=black,line width=.8pt}] coordinates {(1023,934.9)(1023,953.6)(1023,972.3)(1023,990.9)(1023,1009.6)(1023,1102.9)(1023,1158.9)(1023,1196.2)(1023,1214.8)(1023,1233.5)(1023,1401.4)(1023,1420.1)(1023,1438.8)(1023,1476.1)};
% panel letters
\node[tx,font=\fontsize{15}{18}\selectfont\bfseries] at (15,17) {A};
\node[tx,font=\fontsize{15}{18}\selectfont\bfseries] at (736,15) {B};
\node[tx,font=\fontsize{15}{18}\selectfont\bfseries] at (273,767) {C};
% panel A labels
\lbl{208}{100}{30}{black}{\fontsize{9}{10}\selectfont}{GT};
\lbl{78}{429}{-75}{black}{\fontsize{9}{10}\selectfont}{GH};
\lbl{288}{631.5}{-14}{black}{\fontsize{9}{10}\selectfont}{CE};
\lbl{361}{58.5}{-2}{black}{\fontsize{8.5}{10}\selectfont\itshape}{A};
\lbl{389.5}{61}{-6}{black}{\fontsize{8.5}{10}\selectfont\itshape}{B};
\lbl{420}{67}{-12}{black}{\fontsize{8.5}{10}\selectfont\itshape}{C};
\lbl{473}{91}{-24}{black}{\fontsize{8.5}{10}\selectfont\itshape}{Citrobacter};
\lbl{536}{124}{-40}{black}{\fontsize{8.5}{10}\selectfont\itshape}{D};
\lbl{580}{165}{-50}{black}{\fontsize{8.5}{10}\selectfont\itshape}{E};
\lbl{601.4}{199}{-58}{black}{\fontsize{8.5}{10}\selectfont\itshape}{F};
\lbl{644.5}{345}{-88}{black}{\fontsize{8.5}{10}\selectfont\itshape}{Escherichia};
\lbl{602}{498}{60}{black}{\fontsize{8.5}{10}\selectfont\itshape}{G};
\lbl{585.6}{527}{50}{black}{\fontsize{8.5}{10}\selectfont\itshape}{H};
\lbl{556}{559}{40}{black}{\fontsize{8.5}{10}\selectfont\itshape}{I};
\lbl{521}{588}{30}{black}{\fontsize{8.5}{10}\selectfont\itshape}{J};
\lbl{473}{623}{24}{black}{\fontsize{8.5}{10}\selectfont\itshape}{Prevotella};
\lbl{427}{630}{14}{black}{\fontsize{8.5}{10}\selectfont\itshape}{K};
\lbl{385}{637}{5}{black}{\fontsize{8.5}{10}\selectfont\itshape}{L};
\lbl{181}{191}{48}{black}{\fontsize{7.4}{8}\selectfont}{GT2};
\lbl{243}{142}{28}{black}{\fontsize{7.4}{8}\selectfont}{GT4};
\lbl{284}{125}{15}{black}{\fontsize{7.4}{8}\selectfont}{GT9};
\lbl{327}{116}{6}{black}{\fontsize{7.4}{8}\selectfont}{GT51};
\lbl{142}{245}{68}{black}{\fontsize{7.4}{8}\selectfont}{GH31};
\lbl{130}{277}{75}{black}{\fontsize{7.4}{8}\selectfont}{GH24};
\lbl{120}{322}{86}{black}{\fontsize{7.4}{8}\selectfont}{GH23};
\lbl{123}{397}{-80}{black}{\fontsize{7.4}{8}\selectfont}{GH13};
\lbl{140}{448}{-65}{black}{\fontsize{7.4}{8}\selectfont}{GH4};
\lbl{157}{481}{-55}{black}{\fontsize{7.4}{8}\selectfont}{GH3};
\lbl{185}{516.5}{-45}{black}{\fontsize{7.4}{8}\selectfont}{GH2};
\lbl{222}{544}{-33}{black}{\fontsize{7.4}{8}\selectfont}{GH1};
\lbl{257}{565}{-22}{black}{\fontsize{7.4}{8}\selectfont}{CE10};
\lbl{297}{581}{-14}{black}{\fontsize{7.4}{8}\selectfont}{CE4};
\lbl{340.6}{587}{-5}{black}{\fontsize{7.4}{8}\selectfont}{CE1};
\lbl{602.4}{278}{-72}{black}{\fontsize{4.4}{5}\selectfont}{10000};
\lbl{612.8}{322}{-83}{black}{\fontsize{4.4}{5}\selectfont}{20000};
\lbl{611.4}{369}{-95}{black}{\fontsize{4.4}{5}\selectfont}{30000};
\lbl{597.8}{417}{-105}{black}{\fontsize{4.4}{5}\selectfont}{40000};
\lbl{589.7}{455}{-115}{black}{\fontsize{4.4}{5}\selectfont}{50000};
\lbl{242}{117.4}{25}{black}{\fontsize{4.4}{5}\selectfont}{10000};
\lbl{165.3}{177.3}{48}{black}{\fontsize{4.4}{5}\selectfont}{10000};
\lbl{477.8}{125.5}{-25}{black}{\fontsize{4.4}{5}\selectfont}{10000};
\lbl{100.5}{306.7}{80}{black}{\fontsize{4.4}{5}\selectfont}{10000};
\lbl{100.5}{388}{-85}{black}{\fontsize{4.4}{5}\selectfont}{10000};
\foreach \x/\y in {587.4/234,209/136.6,267/108,303.4/97.3,357.8/92,379.5/93.4,406/97.3,435.7/105.4,501.3/137.5,542.6/173.5,573.8/213,563.9/504,545.7/526,509.5/558,480/578.8,423.5/600,393/606,353/609.5,308/604.7,261.3/591.8,222/571.6,182.5/542.4,147/503,124.5/465.7,110/433.6,97.4/346,105/280.3,120/244.4,133.6/213}{
  \edef\temp{\noexpand\node[tx,font=\noexpand\fontsize{4.4}{5}\noexpand\selectfont] at (axis cs:\x,\y) {0};}\temp
}
% genus key
\foreach \x/\y/\t in {18/675/A: Alistipes,18/701/B: Bacteroides,18/727/C: Blautia,158/675/D: Clostridium,158/701/E: Enterobacter,158/727/F: Enterococcus,313/675/G: Eubacterium,313/701/H: Hafnia,313/727/I: Lachnospiraceae\_norank,552/673/J: Lelliottia,552/699/K: Raoultella,552/726/L: Ruminococcus}{
  \edef\temp{\noexpand\node[lbg,font=\noexpand\fontsize{11.6}{13}\noexpand\selectfont\noexpand\itshape] at (axis cs:\x,\y) {\noexpand\detokenize{}\t};}\temp
}
% legends
\node[lb,font=\fontsize{11.2}{13}\selectfont\lefsen] at (804,63) {LMJLG};
\node[lb,font=\fontsize{11.2}{13}\selectfont\lefsen] at (804,91) {LMZMG};
\node[lb,font=\fontsize{11.2}{13}\selectfont\lefsen] at (804,119) {RM};
\node[lb,font=\fontsize{11.2}{13}\selectfont\lefsen] at (401,799) {LMJLG};
\node[lb,font=\fontsize{11.2}{13}\selectfont\lefsen] at (401,826) {LMZMG};
\node[lb,font=\fontsize{11.2}{13}\selectfont\lefsen] at (401,854) {RM};
% panel B key
\nb{38}{a: AA6}\nb{60.4}{b: CBM48}\nb{82.7}{c: CE1}\nb{105.1}{d: CE10}\nb{127.5}{e: CE9}\nb{149.9}{f: GH103}\nb{172.2}{g: GH109}\nb{194.6}{h: GH130}
\nb{217}{i: GH16}\nb{239.3}{j: GH2}\nb{261.7}{k: GH20}\nb{284.1}{l: GH23}\nb{306.4}{m: GH24}\nb{328.8}{n: GH29}\nb{351.2}{o: GH3}\nb{373.6}{p: GH32}
\nb{395.9}{q: GH36}\nb{418.3}{r: GH37}\nb{440.7}{s: GH4}\nb{463}{t: GH43}\nb{485.4}{u: GH5}\nb{507.8}{v: GH73}\nb{530.1}{w: GH78}\nb{552.5}{x: GH8}
\nb{574.9}{y: GH92}\nb{597.3}{z: GH97}\nb{619.6}{a0: GT2}\nb{642}{a1: GT26}\nb{664.4}{a2: GT28}\nb{686.7}{a3: GT4}\nb{709.1}{a4: GT9}
% panel B clade labels
\lB{1291.6}{156.4}{-40}{CBM}\lR{1265.8}{189.6}{-41}{b}\lR{1351.9}{337.4}{-79}{a}\lR{1393}{344.5}{-82}{AA}
\lR{1117.7}{123}{-5}{\cG{d}c}\lR{1039}{125.6}{10}{e}\lR{1005}{135}{18}{f}\lB{981.6}{143.6}{23}{g}
\lB{891.7}{210}{47}{h}\lB{866.4}{242.7}{57}{i}\lR{850.5}{272}{62}{ml\cB{kj}}
\lB{836.5}{302.4}{72}{on}\lR{830.8}{320}{75}{p}\lR{827}{337.4}{80}{r\cB{q}}\lR{823}{355.5}{83}{s}\lB{823}{367.3}{86}{t}\lB{821.5}{404}{93}{u}
\lG{850.5}{512.8}{117}{v}\lB{863.7}{534.6}{122}{w}\lR{870.8}{544}{125}{x}\lB{901}{582}{135}{y}\lB{916.4}{594.8}{140}{z}
\lB{977.8}{633.7}{155}{a0}\lB{1018}{647}{165}{a2\cR{a1}}\lB{1093}{656.4}{180}{a3}\lB{1158.8}{690.5}{195}{GT}\lR{1302.5}{552}{230}{a4}
% panel C key
\nc{767}{a: Bacterial chemotaxis}\nc{785.7}{b: Flagellar assembly}\nc{804.3}{c: Cell motility}\nc{823}{d: ABC transporters}\nc{841.6}{e: Bacterial secretion system}
\nc{860.3}{f: Phosphotransferase system \sm{(PTS)}}\nc{879}{g: Membrane transport}\nc{897.6}{h: Two component system}\nc{916.3}{i: Signal transduction}
\nc{934.9}{j: RNA degradation}\nc{953.6}{k: Folding, sorting and degradation}\nc{972.3}{l: Aminoacyl tRNA biosynthesis}\nc{990.9}{m: Ribosome}\nc{1009.6}{n: Translation}
\nc{1028.2}{o: Cationic antimicrobial peptide \sm{(CAMP)} \ resistance}\nc{1046.9}{p: Drug resistance}\nc{1065.6}{q: Pertussis}\nc{1084.2}{r: Infectious diseases: Bacterial}
\nc{1102.9}{s: Cysteine and methionine metabolism}\nc{1121.5}{t: Phenylalanine metabolism}\nc{1140.2}{u: Butanoate metabolism}\nc{1158.9}{v: Glycolysis / Gluconeogenesis}
\nc{1177.5}{w: Sulfur metabolism}\nc{1196.2}{x: Biosynthesis of amino acids}\nc{1214.8}{y: Biosynthesis of antibiotics}\nc{1233.5}{z: Carbon metabolism}
\nc{1252.2}{a0: Microbial metabolism in diverse environments}\nc{1270.8}{a1: Global and overview maps}\nc{1289.5}{a2: Lipopolysaccharide biosynthesis}\nc{1308.1}{a3: Lipid metabolism}
\nc{1326.8}{a4: Porphyrin and chlorophyll\_metabolism}\nc{1345.5}{a5: Ubiquinone and other terpenoid quinone biosynthesis}\nc{1364.1}{a6: Metabolism of cofactors and vitamins}
\nc{1382.8}{a7: Metabolism of other amino acids}\nc{1401.4}{a8: Purine metabolism}\nc{1420.1}{a9: Pyrimidine metabolism}\nc{1438.8}{b0: Nucleotide metabolism}
\nc{1457.4}{b1: Xenobiotics biodegradation and metabolism}\nc{1476.1}{b2: Endocrine system}
% panel C clade labels
\lR{556.6}{844.5}{20}{Human Diseases}\lB{786}{858}{-25}{Genetic Information Processing}\lR{911.5}{945.3}{-51}{Environmental Information Processing}\lR{965}{1084.7}{-75.4}{Cellular Processes}
\lR{539}{890}{26}{r}\lR{557.5}{917.5}{26}{q}\lR{606}{865}{12}{p}\lR{617}{898.4}{11}{o}\lB{740.6}{871.7}{-16}{n}\lB{734.7}{905}{-17}{ml}
\lB{809}{904}{-30}{k}\lB{791.6}{931.8}{-32}{j}\lR{831}{964}{-44}{h}\lR{879}{966}{-50}{i}\lR{915}{1023}{-66}{g}\lR{883}{1038}{-66}{fed}
\lR{933.6}{1090}{-80}{c}\lR{900.4}{1098.8}{-80}{b\cG{a}}\lB{458.6}{1006.7}{57}{s}\lR{447.7}{1025.8}{62}{t}\lR{420.5}{1126}{95}{u}\lB{420.5}{1145}{98}{v}
\lB{431}{1209}{115}{zyx\cR{w}}\lR{440.1}{1232.5}{115}{a0}\lG{402.5}{1229.7}{112}{a1}\lR{451.9}{1255.8}{120}{a2}
\lG{460.8}{1324.5}{135}{a3}\lR{533.5}{1341.5}{150}{a5\cG{a4}}\lG{507.8}{1365}{150}{a6}\lR{547}{1387.7}{160}{a7}\lB{655}{1378}{180}{a9a8}\lB{653}{1412.5}{180}{b0}\lG{703.7}{1409.7}{190}{b1}\lB{854.4}{1335.8}{228}{b2}
\end{axis}
\end{tikzpicture}
\end{document}
